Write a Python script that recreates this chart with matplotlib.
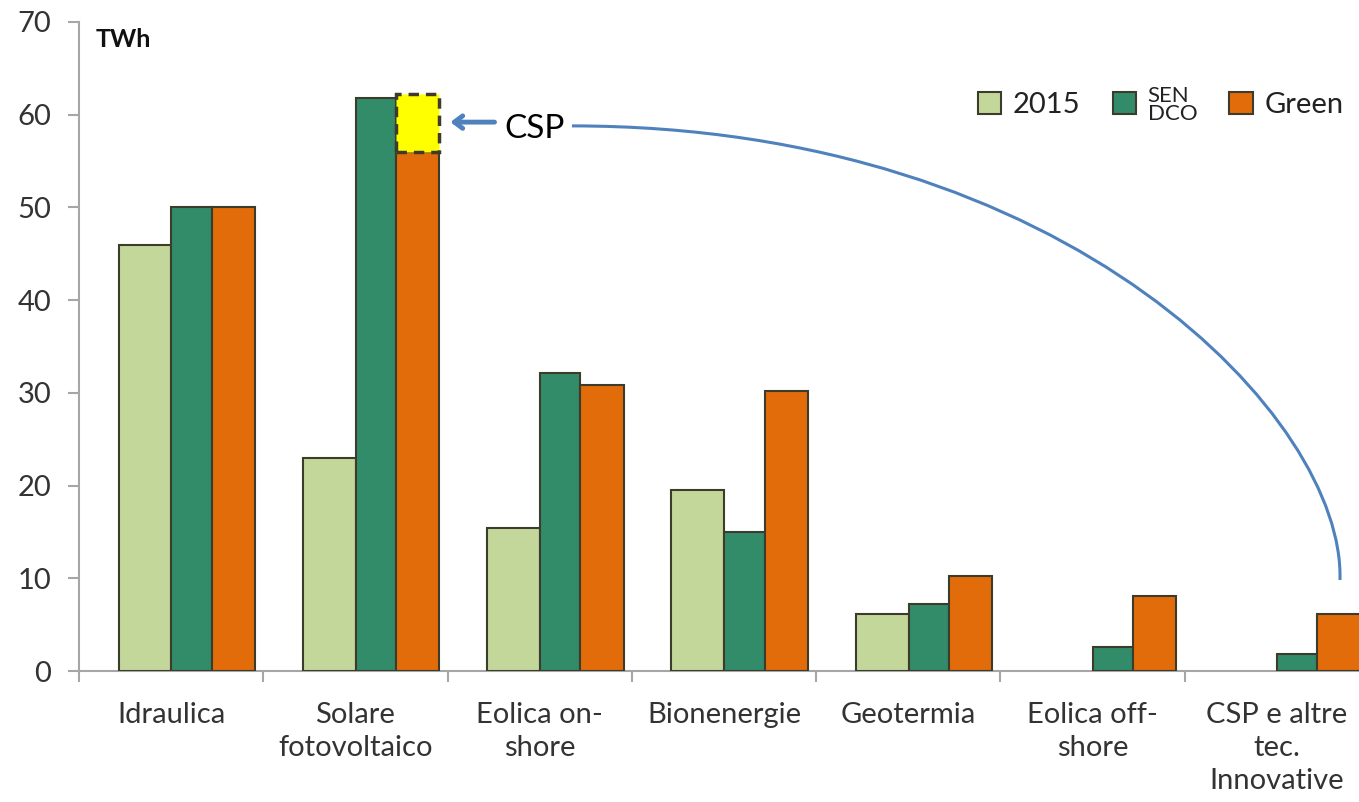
import numpy as np
import matplotlib.pyplot as plt
from matplotlib.path import Path
from matplotlib.patches import PathPatch, Patch

plt.rcParams['font.family'] = ['Lato', 'DejaVu Sans']

categories = ["Idraulica", "Solare\nfotovoltaico", "Eolica on-\nshore", "Bionenergie",
              "Geotermia", "Eolica off-\nshore", "CSP e altre\ntec.\nInnovative"]
series_names = ["2015", "SEN\nDCO", "Green"]
v2015 = [46.0, 23.0, 15.4, 19.5, 6.2, np.nan, np.nan]
sen_dco = [50.0, 61.8, 32.1, 15.0, 7.2, 2.6, 1.8]
green = [50.0, 56.0, 30.8, 30.2, 10.2, 8.1, 6.1]
csp_extra = 6.2          # CSP share sitting on top of the solar "Green" bar
csp_idx = 1

colors = ["#C4D79B", "#328B69", "#E36C0A"]
edge = "#3C3C2C"
offsets = [-0.285, 0.002, 0.22]
widths = [0.287, 0.218, 0.235]
blue = "#4F81BD"

fig = plt.figure(figsize=(13.59, 8.02), dpi=100)
ax = fig.add_axes([0.0581, 0.1633, 0.9493, 0.8093])

x = np.arange(len(categories))
for vals, off, w, c in zip([v2015, sen_dco, green], offsets, widths, colors):
    ax.bar(x + off, vals, width=w, align='edge', color=c, edgecolor=edge, linewidth=1.5, zorder=3)

# highlighted CSP slice on the solar bar
ax.bar(x[csp_idx] + offsets[2], csp_extra, bottom=green[csp_idx], width=widths[2], align='edge',
       color="#FFFF00", edgecolor="#3F3A2A", linewidth=2.5, linestyle=(0, (3, 2)), zorder=4)

ax.set_xlim(-0.5, 6.5)
ax.set_ylim(0, 70)
ax.set_yticks(range(0, 71, 10))
ax.set_xticks(x)
ax.set_xticklabels(categories, fontsize=21, color="#333333", linespacing=1.35)
ax.set_xticks(np.arange(-0.5, 7, 1), minor=True)
ax.tick_params(axis='x', which='major', length=0, pad=22)
ax.tick_params(axis='x', which='minor', length=8, width=1.5, color="#A6A6A6", direction='out')
ax.tick_params(axis='y', length=8, width=1.5, color="#A6A6A6", labelsize=21,
               labelcolor="#333333", pad=12)
for s in ['top', 'right']:
    ax.spines[s].set_visible(False)
for s in ['left', 'bottom']:
    ax.spines[s].set_color("#A6A6A6")
    ax.spines[s].set_linewidth(1.5)

ax.text(0.013, 0.99, "TWh", transform=ax.transAxes, fontsize=18, fontweight='bold',
        va='top', ha='left', color="#111111")

# arrow pointing at the CSP slice
ax.annotate("", xy=(1.50, 59.2), xytext=(1.77, 59.2),
            arrowprops=dict(arrowstyle="->,head_length=0.6,head_width=0.45", color=blue, lw=3.5),
            zorder=5)
ax.text(1.81, 58.5, "CSP", fontsize=24, va='center', ha='left', color="black")

# curved link from the label down to the last category
def to_data(px, py):
    return (px - 79) / 184.3 - 0.5, (671 - py) / 9.27

pts = [to_data(572, 126), to_data(1070, 126), to_data(1345, 420), to_data(1340, 580)]
curve = PathPatch(Path(pts, [Path.MOVETO, Path.CURVE4, Path.CURVE4, Path.CURVE4]),
                  facecolor='none', edgecolor=blue, linewidth=2.2, zorder=5)
ax.add_patch(curve)

handles = [Patch(facecolor=c, edgecolor=edge, linewidth=1.5) for c in colors]
leg = fig.legend(handles, series_names, loc='upper right', bbox_to_anchor=(1.008, 0.925),
                 ncol=3, frameon=False, fontsize=21, handlelength=0.8, handleheight=0.8,
                 handletextpad=0.4, columnspacing=1.1)
leg.get_texts()[1].set_fontsize(16)
leg.get_texts()[1].set_linespacing(0.85)
for t in leg.get_texts():
    t.set_color("#222222")

fig.savefig("out.png", dpi=100)
